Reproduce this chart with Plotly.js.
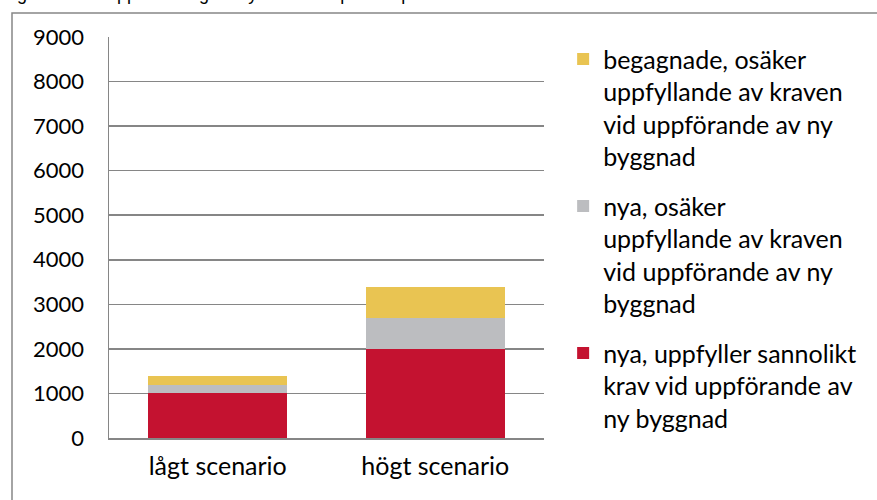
<!DOCTYPE html>
<html>
<head>
<meta charset="utf-8">
<script src="https://cdn.plot.ly/plotly-3.0.1.min.js"></script>
<style>
  html, body { margin: 0; padding: 0; background: #fff; }
  #chart { width: 877px; height: 500px; }
</style>
</head>
<body>
<div id="chart"></div>
<script>
// scenarier och serier (antal byten per år)
const scenarios = ['lågt scenario', 'högt scenario'];
const nyaSannolikt = [1000, 2000];
const nyaOsaker = [200, 700];
const begagnadeOsaker = [200, 700];

const seriesNames = [
    'nya, uppfyller sannolikt<br>krav vid uppförande av<br>ny byggnad',
    'nya, osäker<br>uppfyllande av kraven<br>vid uppförande av ny<br>byggnad',
    'begagnade, osäker<br>uppfyllande av kraven<br>vid uppförande av ny<br>byggnad'
];
const seriesColors = ['#C41230', '#BCBDC0', '#E9C452'];
const yTicks = [0, 1000, 2000, 3000, 4000, 5000, 6000, 7000, 8000, 9000];

const font = 'Lato, "Open Sans", sans-serif';

const values = [nyaSannolikt, nyaOsaker, begagnadeOsaker];
const data = values.map((v, i) => ({
    type: 'bar',
    x: scenarios,
    y: v,
    name: seriesNames[i],
    legendgroup: 'g' + i,
    legendrank: 3 - i,
    marker: { color: seriesColors[i], line: { width: 0 } },
    hoverinfo: 'x+y'
}));

const layout = {
    width: 877,
    height: 500,
    margin: { l: 109, r: 333, t: 37, b: 62 },
    paper_bgcolor: '#fff',
    plot_bgcolor: '#fff',
    barmode: 'stack',
    bargap: 0.36,
    font: { family: font, size: 25, color: '#000' },
    xaxis: {
        showline: true,
        linecolor: '#868686',
        linewidth: 1.5,
        ticks: '',
        ticklabelstandoff: 5,
        tickfont: { family: font, size: 25 }
    },
    yaxis: {
        range: [0, 9000],
        tickvals: yTicks,
        showline: true,
        linecolor: '#868686',
        linewidth: 1.5,
        showgrid: true,
        gridcolor: '#868686',
        gridwidth: 1.5,
        zeroline: false,
        ticks: '',
        ticklabelstandoff: 19,
        tickfont: { family: font, size: 22 }
    },
    showlegend: true,
    legend: {
        x: 1.044,
        y: 1.002,
        xanchor: 'left',
        yanchor: 'top',
        maxheight: 600,
        traceorder: 'grouped',
        tracegroupgap: 14,
        valign: 'top',
        itemwidth: 30,
        font: { family: font, size: 25 },
        bgcolor: 'rgba(0,0,0,0)'
    },
    shapes: [{
        type: 'rect',
        xref: 'paper', yref: 'paper',
        x0: (12 - 109) / 435, x1: 2,
        y0: -1, y1: 1 + (37 - 13) / 401,
        line: { color: '#878787', width: 1.5 },
        fillcolor: 'rgba(0,0,0,0)',
        layer: 'below'
    }],
    annotations: [{
        xref: 'paper', yref: 'paper',
        x: -109 / 435, y: 1 + (37 - 6) / 401,
        xanchor: 'left', yanchor: 'bottom',
        showarrow: false,
        text: 'Figur 4 Grov uppskattning av byten av vedpannor på ett år',
        font: { family: 'Liberation Sans, Arial, sans-serif', size: 18, color: '#000' }
    }]
};

Plotly.newPlot('chart', data, layout, { displayModeBar: false, staticPlot: true });
</script>
</body>
</html>
